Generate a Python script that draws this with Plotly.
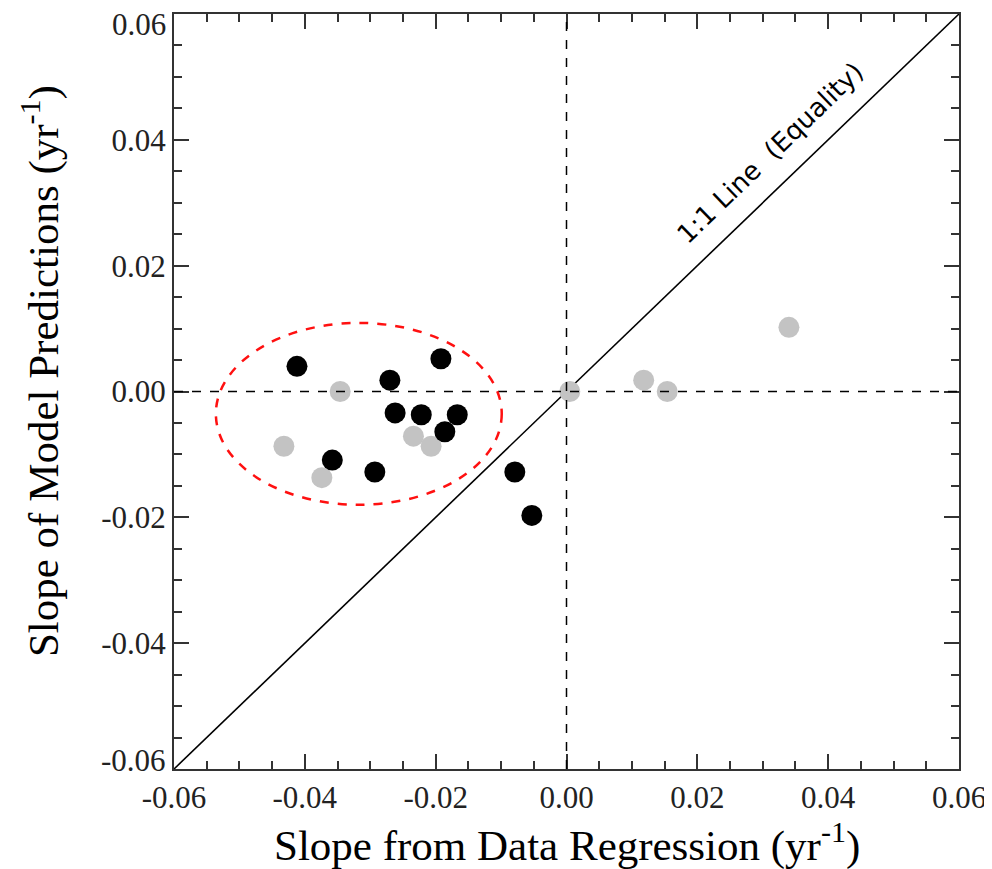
import plotly.graph_objects as go

# Data
black_x = [-0.0412, -0.0192, -0.0270, -0.0262, -0.0222, -0.0167, -0.0186, -0.0358, -0.0293, -0.0079, -0.0053]
black_y = [0.0040, 0.0052, 0.0018, -0.0034, -0.0037, -0.0037, -0.0064, -0.0109, -0.0128, -0.0128, -0.0197]
gray_x = [-0.0346, -0.0432, -0.0374, -0.0234, -0.0207, 0.0005, 0.0118, 0.0154, 0.0340]
gray_y = [0.0000, -0.0087, -0.0137, -0.0071, -0.0087, 0.0000, 0.0018, 0.0000, 0.0102]

axis_range = [-0.06, 0.06]
x_tick_vals = [-0.06, -0.04, -0.02, 0.0, 0.02, 0.04, 0.06]
x_tick_text = ["-0.06", "-0.04", "-0.02", "0.00", "0.02", "0.04", "0.06"]
# interior y ticks; the two edge labels are nudged inward (as in the original)
y_tick_vals = [-0.04, -0.02, 0.0, 0.02, 0.04]
y_tick_text = ["-0.04", "-0.02", "0.00", "0.02", "0.04"]
y_edge_vals = [-0.06, 0.06]
y_edge_text = ["-0.06", "0.06"]

# highlighted cluster ellipse (data coords)
ellipse_x = [-0.0536, -0.0099]
ellipse_y = [-0.0180, 0.0109]

label_text = "1:1 Line  (Equality)"
label_pos = [0.0311, 0.0379]

x_title = "Slope from Data Regression (yr<sup>-1</sup>)"
y_title = "Slope of Model Predictions (yr<sup>-1</sup>)"

fig = go.Figure()

# 1:1 line
fig.add_trace(go.Scatter(x=axis_range, y=axis_range, mode="lines",
                         line=dict(color="black", width=1.6), showlegend=False, hoverinfo="skip"))

fig.add_hline(y=0, line=dict(color="black", width=1.5, dash="dash"))
fig.add_vline(x=0, line=dict(color="black", width=1.5, dash="dash"))

fig.add_trace(go.Scatter(x=gray_x, y=gray_y, mode="markers",
                         marker=dict(color="#c3c3c3", size=21, line=dict(width=0)), showlegend=False))
fig.add_trace(go.Scatter(x=black_x, y=black_y, mode="markers",
                         marker=dict(color="black", size=21, line=dict(width=0)), showlegend=False))

fig.add_shape(type="circle", xref="x", yref="y",
              x0=ellipse_x[0], x1=ellipse_x[1], y0=ellipse_y[0], y1=ellipse_y[1],
              line=dict(color="#ff1010", width=2.5, dash="dash"))

fig.add_annotation(x=label_pos[0], y=label_pos[1], text=label_text, showarrow=False,
                   textangle=-44, font=dict(family="DejaVu Sans", size=26, color="black"))

tick_font = dict(family="Liberation Serif", size=31, color="#222222")
for v, t in zip(y_edge_vals, y_edge_text):
    fig.add_annotation(xref="paper", x=0, yref="y", y=v, text=t, showarrow=False,
                       xanchor="right", yanchor="middle", xshift=-6,
                       yshift=9 if v < 0 else -10, font=tick_font)

title_font = dict(family="Liberation Serif", size=43, color="black")
fig.add_annotation(xref="paper", yref="paper", x=0.5, y=0, text=x_title, showarrow=False,
                   xanchor="center", yanchor="middle", yshift=-73, font=title_font)
fig.add_annotation(xref="paper", yref="paper", x=0, y=0.527, text=y_title, showarrow=False,
                   textangle=-90, xanchor="center", yanchor="middle", xshift=-134,
                   font=title_font)

axis_common = dict(
    range=axis_range,
    showgrid=False, zeroline=False, showline=True, linecolor="#333333", linewidth=2,
    mirror="ticks", ticks="inside", ticklen=15, tickwidth=2, tickcolor="#333333",
    tickfont=tick_font,
    ticklabeloverflow="allow",
    minor=dict(dtick=0.005, ticks="inside", ticklen=8, tickwidth=2, tickcolor="#333333"),
    automargin=False,
)

fig.update_xaxes(**axis_common, tickvals=x_tick_vals, ticktext=x_tick_text)
fig.update_yaxes(**axis_common, tickvals=y_tick_vals + y_edge_vals, ticktext=y_tick_text + ["", ""])

# page body has an 8px default margin; figure sized/margined to compensate
fig.update_layout(width=984, height=861, margin=dict(l=166, r=33, t=6, b=100),
                  plot_bgcolor="white", paper_bgcolor="white")

fig.write_html("out.html")
